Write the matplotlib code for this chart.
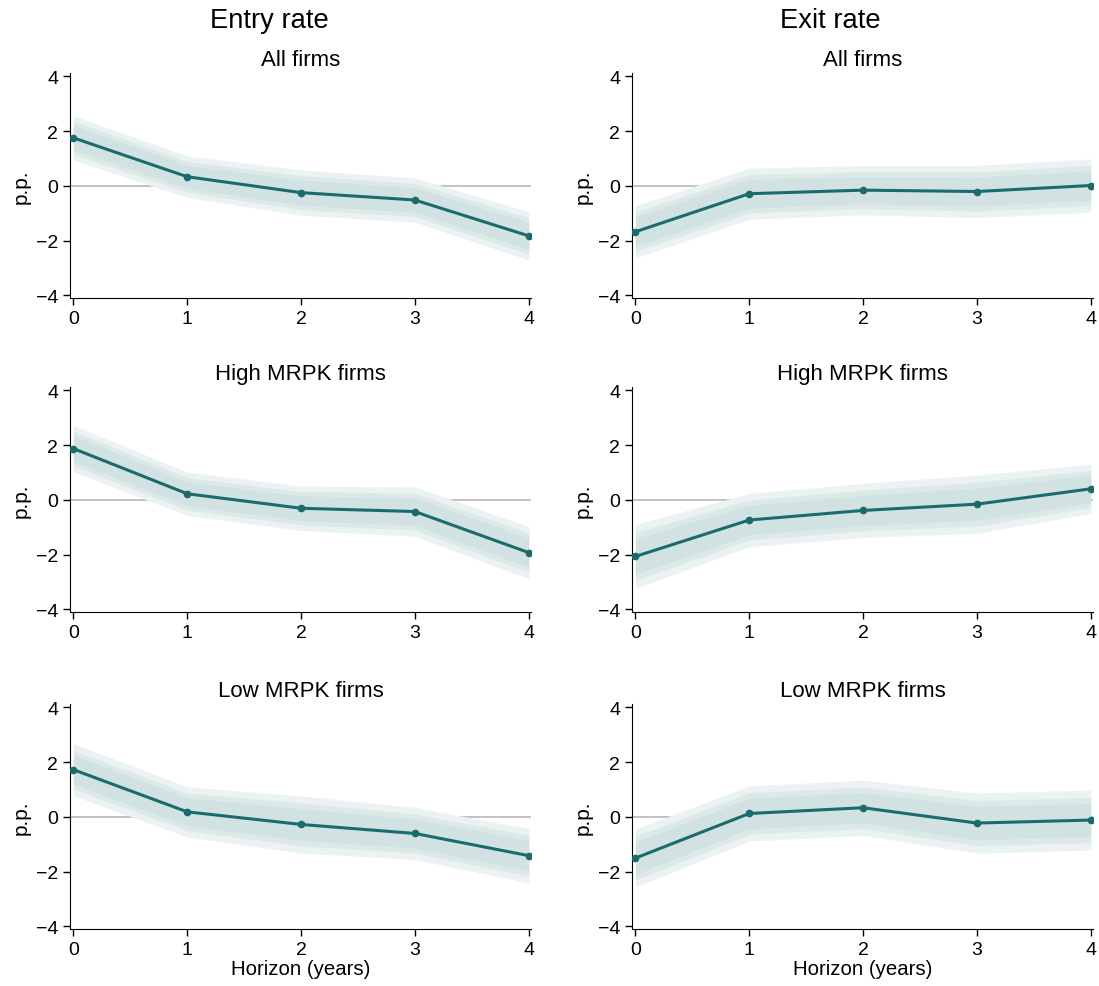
import matplotlib.pyplot as plt
import numpy as np

plt.rcParams['font.family'] = ['Liberation Sans', 'DejaVu Sans']

horizon = [0, 1, 2, 3, 4]

# point estimates (p.p.)
entry_all = [1.75, 0.33, -0.25, -0.52, -1.83]
entry_high = [1.87, 0.22, -0.31, -0.43, -1.93]
entry_low = [1.72, 0.18, -0.28, -0.61, -1.42]
exit_all = [-1.68, -0.29, -0.16, -0.21, 0.01]
exit_high = [-2.07, -0.74, -0.39, -0.16, 0.40]
exit_low = [-1.51, 0.12, 0.33, -0.23, -0.12]

# half-width of the innermost band
entry_all_se = [0.45, 0.42, 0.46, 0.45, 0.49]
entry_high_se = [0.47, 0.44, 0.45, 0.50, 0.53]
entry_low_se = [0.53, 0.51, 0.58, 0.53, 0.55]
exit_all_se = [0.53, 0.52, 0.50, 0.53, 0.54]
exit_high_se = [0.65, 0.54, 0.55, 0.59, 0.50]
exit_low_se = [0.59, 0.56, 0.56, 0.61, 0.61]

band_scale = [1.8, 1.35, 1.0]
band_colors = ['#ebf2f2', '#dde9e9', '#d2e2e2']
line_color = '#1b6b6e'

row_titles = ['All firms', 'High MRPK firms', 'Low MRPK firms']
col_titles = ['Entry rate', 'Exit rate']
panels = [
    [(entry_all, entry_all_se), (exit_all, exit_all_se)],
    [(entry_high, entry_high_se), (exit_high, exit_high_se)],
    [(entry_low, entry_low_se), (exit_low, exit_low_se)],
]

fig = plt.figure(figsize=(10.99, 9.87), dpi=100)

lefts = [70 / 1099, 632 / 1099]
width = 461 / 1099
bottoms = [1 - 299 / 987, 1 - 613 / 987, 1 - 930 / 987]
height = 225 / 987

for r in range(3):
    for c in range(2):
        est, se = panels[r][c]
        est = np.array(est)
        se = np.array(se)
        ax = fig.add_axes([lefts[c], bottoms[r], width, height])
        ax.axhline(0, color='#bdbdbd', lw=1.3, zorder=1)
        for k, col in zip(band_scale, band_colors):
            ax.fill_between(horizon, est - k * se, est + k * se,
                            color=col, lw=0, zorder=2)
        ax.plot(horizon, est, color=line_color, lw=2.2, marker='o',
                ms=4.5, zorder=3)
        ax.set_xlim(-0.03, 4.02)
        ax.set_ylim(-4.1, 4.12)
        ax.set_xticks(horizon)
        ax.set_yticks([-4, -2, 0, 2, 4])
        ax.tick_params(labelsize=14, length=5, width=1, direction='out')
        for s in ['top', 'right']:
            ax.spines[s].set_visible(False)
        ax.set_ylabel('p.p.', fontsize=15, labelpad=4)
        ax.set_title(row_titles[r], fontsize=16, pad=6)
        if r == 2:
            ax.set_xlabel('Horizon (years)', fontsize=14.7, labelpad=1)

fig.text(269 / 1099, 1 - 21 / 987, col_titles[0], fontsize=19.7,
         ha='center', va='center')
fig.text(830 / 1099, 1 - 21 / 987, col_titles[1], fontsize=19.7,
         ha='center', va='center')

plt.savefig('out.png', dpi=100)
